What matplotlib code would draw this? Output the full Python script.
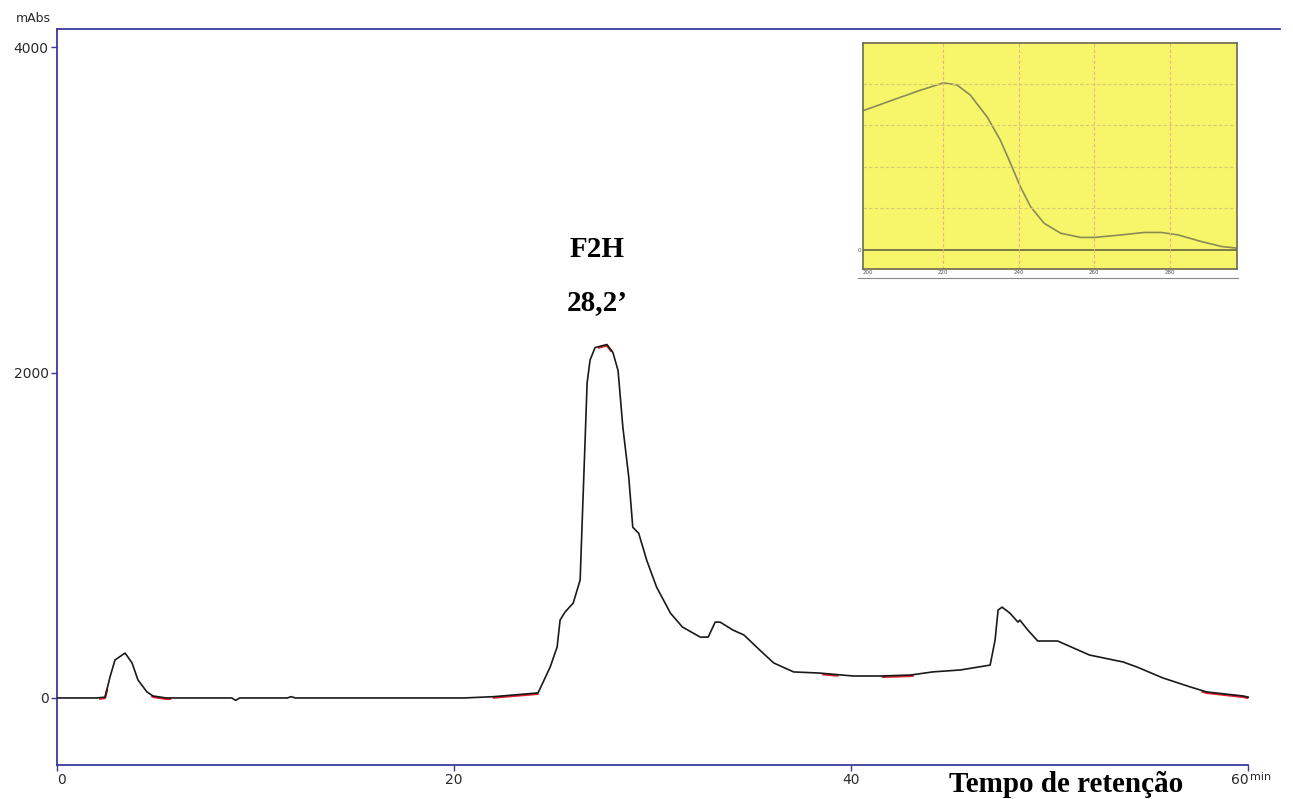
import numpy as np
import matplotlib
matplotlib.use("Agg")
import matplotlib.pyplot as plt
from matplotlib.lines import Line2D

# chromatogram (min, mAbs)
tempo = [0, 2.0, 2.42, 2.67, 2.92, 3.43, 3.78, 4.08, 4.53, 4.84, 5.5, 8.8, 9.0, 9.2,
         11.6, 11.8, 12.0, 20.5, 22.0, 24.23, 24.84, 25.19, 25.34, 25.59, 26.0, 26.35,
         26.45, 26.6, 26.7, 26.85, 27.1, 27.7, 28.0, 28.26, 28.5, 28.8, 29.0, 29.3,
         29.7, 30.2, 30.9, 31.5, 32.4, 32.8, 33.15, 33.4, 34.05, 34.6, 35.4, 36.1,
         37.1, 38.4, 40.1, 41.5, 43.0, 44.1, 45.5, 47.0, 47.25, 47.4, 47.6, 48.0,
         48.4, 48.5, 48.9, 49.4, 50.4, 52.0, 53.7, 54.4, 55.7, 57.1, 57.9, 59.75, 60.0]
absorb = [0, 0, 5, 129, 233, 276, 215, 110, 37, 12, 0, 0, -15, 0,
          0, 8, 0, 0, 8, 31, 190, 313, 479, 528, 583, 725,
          1075, 1585, 1935, 2077, 2153, 2172, 2123, 2012, 1665, 1356, 1049, 1012,
          847, 681, 521, 436, 374, 374, 466, 466, 417, 387, 294, 215,
          160, 153, 135, 135, 141, 160, 172, 202, 356, 540, 558, 521,
          466, 478, 417, 350, 350, 264, 221, 190, 123, 67, 37, 12, 5]

# baseline segments drawn in red by the integrator
red_segs = [(2.17, 2.52), (4.8, 5.7), (22.0, 24.2), (27.3, 27.9),
            (38.6, 39.3), (41.6, 43.1), (57.7, 59.95)]

# UV spectrum of the peak (inset)
wl = [199, 207.6, 213.8, 220, 223.6, 227.1, 231.6, 235.1, 237.8, 240.4, 243.1,
      246.7, 251.1, 256.4, 260, 267.1, 273.3, 277.8, 282.2, 288.4, 293.8, 298]
uv = [3.36, 3.64, 3.84, 4.02, 3.97, 3.73, 3.2, 2.64, 2.08, 1.52, 1.04,
      0.64, 0.4, 0.3, 0.3, 0.36, 0.42, 0.42, 0.36, 0.2, 0.08, 0.04]

xticks = [0, 20, 40, 60]
yticks = [0, 2000, 4000]
wl_ticks = [200, 220, 240, 260, 280]

W, H = 1293, 799
axis_col = '#3a3a9a'

fig = plt.figure(figsize=(W / 100, H / 100), dpi=100)
ax = fig.add_axes([57 / W, 1 - 765 / H, (1280 - 57) / W, (765 - 29) / H])

for a, b in red_segs:
    tt = np.linspace(a, b, 20)
    ax.plot(tt, np.interp(tt, tempo, absorb) - 6, color='#e0202a', lw=1.6, zorder=2)
ax.plot(tempo, absorb, color='#1a1a1a', lw=1.2, zorder=3)

ax.set_xlim(0, 61.6)
ax.set_ylim(-412, 4111)
for s in ['left', 'top', 'bottom']:
    ax.spines[s].set_color(axis_col)
    ax.spines[s].set_linewidth(1.3)
ax.spines['right'].set_visible(False)
ax.spines['bottom'].set_bounds(0, 60)
ax.set_xticks(xticks)
ax.set_xticklabels([str(v) for v in xticks])
ax.set_yticks(yticks)
ax.set_yticklabels([str(v) for v in yticks])
ax.tick_params(colors=axis_col, length=4, width=1, labelcolor='#2a2a2a',
               labelsize=10, pad=2)
xl = ax.get_xticklabels()
xl[0].set_ha('left')
xl[-1].set_ha('right')

fig.text(33 / W, 1 - 19 / H, 'mAbs', fontsize=9, color='#2a2a2a', ha='center', va='center')
fig.text(1250 / W, 1 - 777 / H, 'min', fontsize=8, color='#2a2a2a', ha='left', va='center')

serif = 'Liberation Serif'
ax.text(27.2, 2755, 'F2H', fontsize=21, fontweight='bold', family=serif,
        ha='center', va='center')
ax.text(27.2, 2430, '28,2’', fontsize=21, fontweight='bold', family=serif,
        ha='center', va='center')
fig.text(1066 / W, 1 - 784 / H, 'Tempo de retenção', fontsize=21, fontweight='bold',
         family=serif, ha='center', va='center')

# inset spectrum
ins = fig.add_axes([863 / W, 1 - 269 / H, (1237 - 863) / W, (269 - 43) / H])
ins.set_facecolor('#f7f56a')
ins.plot(wl, uv, color='#8c8a55', lw=1.2)
ins.axhline(0, color='#707048', lw=1.3)
ins.set_xlim(198.7, 297.8)
ins.set_ylim(-0.46, 4.98)
ins.set_xticks(wl_ticks)
ins.set_xticklabels([str(v) for v in wl_ticks])
ins.set_yticks([0])
ins.set_yticklabels(['0'])
for v in wl_ticks[1:]:
    ins.axvline(v, color='#e8b48a', lw=0.8, ls=(0, (3, 2)))
for v in [1, 2, 3, 4]:
    ins.axhline(v, color='#d8c878', lw=0.8, ls=(0, (3, 2)))
for s in ins.spines.values():
    s.set_color('#6a6a50')
    s.set_linewidth(1.2)
ins.tick_params(length=0, labelsize=4, colors='#555555', pad=1)
fig.add_artist(Line2D([858 / W, 1238 / W], [1 - 278 / H, 1 - 278 / H],
                      color='#888888', lw=0.8))

fig.savefig('out.png', dpi=100)
